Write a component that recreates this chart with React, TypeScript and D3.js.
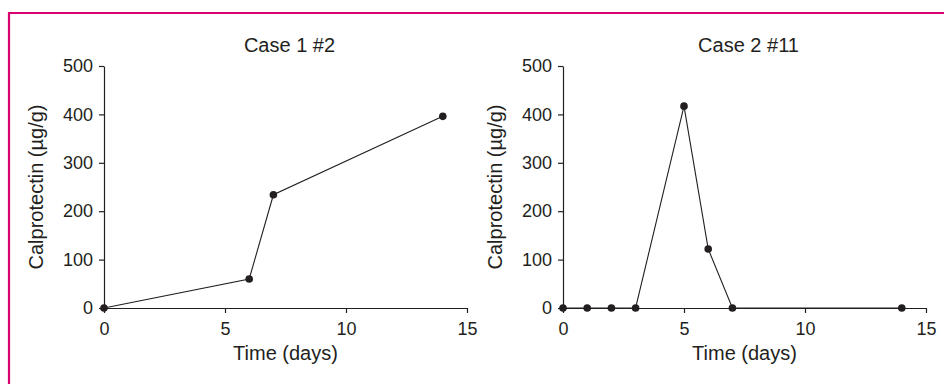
import React from "react";
import * as d3 from "d3";

const case1Days = [0, 6, 7, 14];
const case1Values = [0, 60, 234, 396];
const case2Days = [0, 1, 2, 3, 5, 6, 7, 14];
const case2Values = [0, 0, 0, 0, 417, 122, 0, 0];
const xTicks = [0, 5, 10, 15];
const yTicks = [0, 100, 200, 300, 400, 500];
const titles = ["Case 1 #2", "Case 2 #11"];

const FONT = "'Liberation Sans', Arial, Helvetica, sans-serif";
const INK = "#231f20";

function Panel({ left, title, days, values }) {
  const gRef = React.useRef(null);
  const plotWidth = 363;
  const top = 66;
  const bottom = 308;

  React.useEffect(() => {
    const g = d3.select(gRef.current);
    g.selectAll("*").remove();

    const xScale = d3.scaleLinear().domain([0, 15]).range([left, left + plotWidth]);
    const yScale = d3.scaleLinear().domain([0, 500]).range([bottom, top]);

    const xAxis = d3.axisBottom(xScale).tickValues(xTicks).tickSize(5).tickSizeOuter(0).tickPadding(9);
    const yAxis = d3.axisLeft(yScale).tickValues(yTicks).tickSize(5).tickSizeOuter(0).tickPadding(6);

    const styleAxis = (sel) => {
      sel.select(".domain").attr("stroke", INK).attr("stroke-width", 1.2);
      sel.selectAll(".tick line").attr("stroke", INK).attr("stroke-width", 1.2);
      sel
        .selectAll(".tick text")
        .attr("fill", INK)
        .style("font-size", "18px")
        .style("font-family", FONT);
    };

    g.append("g")
      .attr("transform", `translate(0,${bottom})`)
      .call(xAxis)
      .call(styleAxis);

    g.append("g")
      .attr("transform", `translate(${left},0)`)
      .call(yAxis)
      .call(styleAxis);

    const points = days.map((d, i) => [d, values[i]]);

    const line = d3
      .line()
      .x((d) => xScale(d[0]))
      .y((d) => yScale(d[1]));

    g.append("path")
      .datum(points)
      .attr("d", line)
      .attr("fill", "none")
      .attr("stroke", INK)
      .attr("stroke-width", 1.1);

    g.selectAll(".pt")
      .data(points)
      .join("circle")
      .attr("class", "pt")
      .attr("cx", (d) => xScale(d[0]))
      .attr("cy", (d) => yScale(d[1]))
      .attr("r", 3.8)
      .attr("fill", INK);

    g.append("text")
      .attr("x", left + plotWidth / 2 + 4)
      .attr("y", 52)
      .attr("text-anchor", "middle")
      .attr("fill", INK)
      .style("font-size", "20px")
      .style("font-family", FONT)
      .text(title);

    g.append("text")
      .attr("x", left + plotWidth / 2)
      .attr("y", 360)
      .attr("text-anchor", "middle")
      .attr("fill", INK)
      .style("font-size", "20px")
      .style("font-family", FONT)
      .text("Time (days)");

    g.append("text")
      .attr("transform", `translate(${left - 61},${(top + bottom) / 2}) rotate(-90)`)
      .attr("text-anchor", "middle")
      .attr("fill", INK)
      .style("font-size", "20px")
      .style("font-family", FONT)
      .text("Calprotectin (µg/g)");
  }, [left, title, days, values]);

  return <g ref={gRef} />;
}

export default function App() {
  return (
    <svg
      width={944}
      height={384}
      style={{ position: "absolute", left: 0, top: 0, background: "#fff" }}
    >
      <rect x={0} y={0} width={944} height={384} fill="#fff" />
      <path d="M9,384 L9,13 L944,13" fill="none" stroke="#d6006f" strokeWidth={2.2} />
      <Panel left={104} title={titles[0]} days={case1Days} values={case1Values} />
      <Panel left={563} title={titles[1]} days={case2Days} values={case2Values} />
    </svg>
  );
}
